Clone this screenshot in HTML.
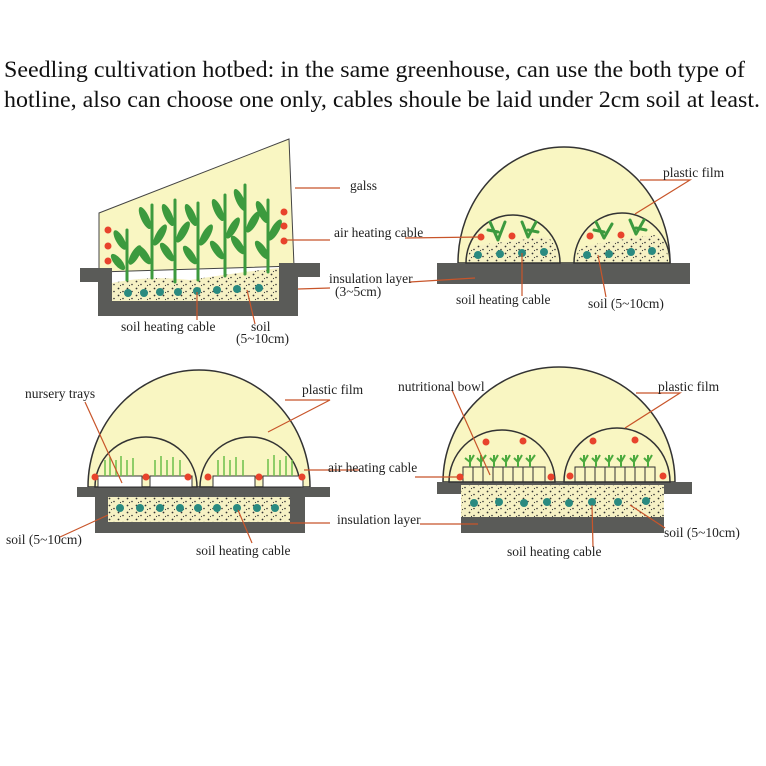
<!DOCTYPE html>
<html><head><meta charset="utf-8"><style>
html,body{margin:0;padding:0;background:#fff;width:766px;height:766px;overflow:hidden}
svg{display:block}
text{font-family:"Liberation Serif",serif;fill:#222}
.t{font-size:21px;fill:#111}
.l{font-size:13.5px}
.ln{stroke:#c8552a;stroke-width:1.2;fill:none}
.dome{fill:#f9f6c2;stroke:#333;stroke-width:1.5}
.gray{fill:#5a5b58}
.soil{fill:url(#dots);}
.r{fill:#e8432c}
.b{fill:#2a8a80}
.plant{fill:none;stroke:#3c9a3e;stroke-width:3;stroke-linecap:round}
</style></head><body>
<svg width="766" height="766" viewBox="0 0 766 766">
<defs>
<pattern id="dots" width="9" height="7" patternUnits="userSpaceOnUse">
<rect width="9" height="7" fill="#f6f1c4"/>
<circle cx="1.5" cy="1.5" r="0.9" fill="#333"/><circle cx="6" cy="4.5" r="0.8" fill="#333"/><circle cx="3.5" cy="5.5" r="0.6" fill="#444"/>
</pattern>
<linearGradient id="band" x1="0" y1="0" x2="0" y2="1">
<stop offset="0" stop-color="#f9f6c2"/><stop offset="0.2" stop-color="#f3dfa8"/><stop offset="0.35" stop-color="#f9f6c2"/><stop offset="1" stop-color="#f9f6c2"/>
</linearGradient>
</defs>
<rect width="766" height="766" fill="#fff"/>
<text class="t" x="4" y="77" textLength="741" lengthAdjust="spacingAndGlyphs" style="font-size:23px">Seedling cultivation hotbed: in the same greenhouse, can use the both type of</text>
<text class="t" x="4" y="107" textLength="756" lengthAdjust="spacingAndGlyphs" style="font-size:23px">hotline, also can choose one only, cables shoule be laid under 2cm soil at least.</text>

<!-- Top-left -->
<polygon points="99,213 289,139 294,266 99,272" fill="#f9f6c2" stroke="#444" stroke-width="1"/>
<path class="gray" d="M80,268 H112 V301 H279 V263 H320 V277 H298 V316 H98 V282 H80 Z"/>
<path class="soil" d="M112,283 Q150,275 190,280 Q240,272 279,268 V301 H112 Z"/>
<g class="plant">
<path d="M127,280 V230"/><path d="M152,278 V205"/><path d="M175,282 V200"/><path d="M198,280 V203"/><path d="M225,276 V195"/><path d="M245,274 V185"/><path d="M268,272 V200"/>
</g>
<g fill="#3c9a3e">
<ellipse cx="120" cy="240" rx="4" ry="11" transform="rotate(-30 120 240)"/><ellipse cx="135" cy="255" rx="4" ry="11" transform="rotate(30 135 255)"/><ellipse cx="118" cy="262" rx="4" ry="10" transform="rotate(-40 118 262)"/>
<ellipse cx="145" cy="218" rx="4" ry="12" transform="rotate(-25 145 218)"/><ellipse cx="160" cy="235" rx="4" ry="12" transform="rotate(30 160 235)"/><ellipse cx="144" cy="255" rx="4" ry="11" transform="rotate(-35 144 255)"/>
<ellipse cx="168" cy="215" rx="4" ry="12" transform="rotate(-25 168 215)"/><ellipse cx="183" cy="232" rx="4" ry="12" transform="rotate(30 183 232)"/><ellipse cx="167" cy="252" rx="4" ry="11" transform="rotate(-35 167 252)"/>
<ellipse cx="191" cy="215" rx="4" ry="12" transform="rotate(-25 191 215)"/><ellipse cx="206" cy="235" rx="4" ry="12" transform="rotate(30 206 235)"/><ellipse cx="190" cy="255" rx="4" ry="11" transform="rotate(-35 190 255)"/>
<ellipse cx="218" cy="210" rx="4" ry="12" transform="rotate(-25 218 210)"/><ellipse cx="233" cy="228" rx="4" ry="12" transform="rotate(30 233 228)"/><ellipse cx="217" cy="250" rx="4" ry="11" transform="rotate(-35 217 250)"/>
<ellipse cx="240" cy="200" rx="4" ry="12" transform="rotate(-25 240 200)"/><ellipse cx="253" cy="222" rx="4" ry="12" transform="rotate(30 253 222)"/><ellipse cx="238" cy="245" rx="4" ry="11" transform="rotate(-35 238 245)"/>
<ellipse cx="262" cy="212" rx="4" ry="12" transform="rotate(-25 262 212)"/><ellipse cx="275" cy="230" rx="4" ry="12" transform="rotate(30 275 230)"/><ellipse cx="262" cy="250" rx="4" ry="11" transform="rotate(-35 262 250)"/>
</g>
<g class="r"><circle cx="108" cy="230" r="3.5"/><circle cx="108" cy="246" r="3.5"/><circle cx="108" cy="261" r="3.5"/><circle cx="284" cy="212" r="3.5"/><circle cx="284" cy="226" r="3.5"/><circle cx="284" cy="241" r="3.5"/></g>
<g class="b"><circle cx="128" cy="293" r="4"/><circle cx="144" cy="293" r="4"/><circle cx="160" cy="292" r="4"/><circle cx="178" cy="292" r="4"/><circle cx="197" cy="291" r="4"/><circle cx="217" cy="290" r="4"/><circle cx="237" cy="289" r="4"/><circle cx="259" cy="288" r="4"/></g>
<path class="ln" d="M295,188 H340"/><path class="ln" d="M286,240 H330"/><path class="ln" d="M298,289 L330,288"/>
<path class="ln" d="M197,292 V320"/><path class="ln" d="M247,290 L255,324"/>
<text class="l" x="350" y="190">galss</text>
<text class="l" x="334" y="237">air heating cable</text>
<text class="l" x="329" y="283">insulation layer</text>
<text class="l" x="335" y="296">(3~5cm)</text>
<text class="l" x="121" y="331">soil heating cable</text>
<text class="l" x="251" y="331">soil</text>
<text class="l" x="236" y="343">(5~10cm)</text>

<!-- Top-right -->
<path class="dome" d="M458,263 A106,116 0 0 1 670,263 Z"/>
<path class="gray" d="M437,263 H690 V284 H437 Z"/>
<path class="dome" d="M466,263 A47,48 0 0 1 560,263 Z"/>
<path class="dome" d="M574,263 A48,50 0 0 1 670,263 Z"/>
<path class="soil" d="M468,262 Q467,248 480,245 Q520,240 545,237 Q558,240 558,262 Z"/>
<path class="soil" d="M576,262 Q575,248 590,245 Q630,238 655,235 Q668,240 668,262 Z"/>
<g class="r"><circle cx="481" cy="237" r="3.5"/><circle cx="512" cy="236" r="3.5"/><circle cx="590" cy="236" r="3.5"/><circle cx="621" cy="235" r="3.5"/></g>
<g class="b"><circle cx="478" cy="255" r="4"/><circle cx="500" cy="254" r="4"/><circle cx="522" cy="253" r="4"/><circle cx="544" cy="252" r="4"/><circle cx="587" cy="255" r="4"/><circle cx="609" cy="254" r="4"/><circle cx="631" cy="252" r="4"/><circle cx="652" cy="251" r="4"/></g>
<g class="plant"><path d="M498,240 L490,222 M498,240 L505,222 M498,232 L488,230"/><path d="M528,237 L522,222 M528,237 L536,222 M528,230 L538,232"/><path d="M604,238 L596,222 M604,238 L612,224 M604,232 L594,230"/><path d="M636,234 L630,220 M636,234 L644,220 M636,228 L646,230"/></g>
<path class="ln" d="M640,180 H690 L635,214"/><path class="ln" d="M405,238 L480,237"/><path class="ln" d="M410,282 L475,278"/>
<path class="ln" d="M522,253 V296"/><path class="ln" d="M598,255 L606,297"/>
<text class="l" x="663" y="177">plastic film</text>
<text class="l" x="456" y="304">soil heating cable</text>
<text class="l" x="588" y="308">soil (5~10cm)</text>

<!-- Bottom-left -->
<path class="dome" d="M88,487 A111,117 0 0 1 310,487 Z" fill="url(#band)"/>
<path class="gray" d="M77,487 H330 V497 H305 V533 H95 V497 H77 Z"/>
<rect class="soil" x="108" y="497" width="182" height="25"/>
<path class="dome" d="M95,487 A51,50 0 0 1 197,487 Z"/>
<path class="dome" d="M200,487 A50,50 0 0 1 300,487 Z"/>
<g fill="#fff" stroke="#333" stroke-width="1"><rect x="98" y="476" width="44" height="11"/><rect x="150" y="476" width="42" height="11"/><rect x="213" y="476" width="42" height="11"/><rect x="263" y="476" width="40" height="11"/></g>
<g stroke="#6cbf4a" stroke-width="1.5" fill="none"><path d="M105,476 V460 M110,476 V457 M116,476 V460 M121,476 V456 M127,476 V460 M133,476 V458 M155,476 V460 M161,476 V456 M167,476 V460 M173,476 V457 M180,476 V460 M218,476 V460 M224,476 V456 M230,476 V460 M236,476 V457 M243,476 V460 M268,476 V459 M274,476 V455 M280,476 V460 M286,476 V456 M292,476 V460"/></g>
<g class="r"><circle cx="95" cy="477" r="3.5"/><circle cx="146" cy="477" r="3.5"/><circle cx="188" cy="477" r="3.5"/><circle cx="208" cy="477" r="3.5"/><circle cx="259" cy="477" r="3.5"/><circle cx="302" cy="477" r="3.5"/></g>
<g class="b"><circle cx="120" cy="508" r="4"/><circle cx="140" cy="508" r="4"/><circle cx="160" cy="508" r="4"/><circle cx="180" cy="508" r="4"/><circle cx="198" cy="508" r="4"/><circle cx="217" cy="508" r="4"/><circle cx="237" cy="508" r="4"/><circle cx="257" cy="508" r="4"/><circle cx="275" cy="508" r="4"/></g>
<path class="ln" d="M85,402 L122,483"/><path class="ln" d="M285,400 H330 L268,432"/><path class="ln" d="M304,470 H360"/><path class="ln" d="M290,523 H330"/>
<path class="ln" d="M60,537 L108,515"/><path class="ln" d="M238,510 L252,543"/>
<text class="l" x="25" y="398">nursery trays</text>
<text class="l" x="302" y="394">plastic film</text>
<text class="l" x="328" y="472">air heating cable</text>
<text class="l" x="337" y="524">insulation layer</text>
<text class="l" x="6" y="544">soil (5~10cm)</text>
<text class="l" x="196" y="555">soil heating cable</text>

<!-- Bottom-right -->
<path class="dome" d="M443,482 A116,115 0 0 1 675,482 Z" fill="url(#band)"/>
<path class="gray" d="M437,482 H692 V494 H664 V533 H461 V494 H437 Z"/>
<rect class="soil" x="461" y="485" width="203" height="32"/>
<path class="dome" d="M449,482 A53,52 0 0 1 555,482 Z"/>
<path class="dome" d="M564,482 A53,54 0 0 1 670,482 Z"/>
<g fill="none" stroke="#333" stroke-width="1"><rect x="463" y="467" width="82" height="15"/><rect x="575" y="467" width="80" height="15"/>
<path d="M473,467 V482 M483,467 V482 M493,467 V482 M503,467 V482 M513,467 V482 M523,467 V482 M533,467 V482 M585,467 V482 M595,467 V482 M605,467 V482 M615,467 V482 M625,467 V482 M635,467 V482 M645,467 V482"/></g>
<g stroke="#4caa3e" stroke-width="2" fill="none"><path d="M470,467 V455 M465,458 L470,462 L474,455 M481,467 V455 M477,458 L481,462 L486,455 M494,467 V455 M490,458 L494,462 L498,455 M506,467 V455 M502,458 L506,462 L510,455 M518,467 V455 M514,458 L518,462 L522,455 M530,467 V455 M526,458 L530,462 L535,455 M584,467 V455 M580,458 L584,462 L588,455 M596,467 V455 M592,458 L596,462 L600,455 M609,467 V455 M605,458 L609,462 L613,455 M621,467 V455 M617,458 L621,462 L625,455 M634,467 V455 M630,458 L634,462 L638,455 M648,467 V455 M644,458 L648,462 L652,455"/></g>
<g class="r"><circle cx="486" cy="442" r="3.5"/><circle cx="523" cy="441" r="3.5"/><circle cx="593" cy="441" r="3.5"/><circle cx="635" cy="440" r="3.5"/><circle cx="460" cy="477" r="3.5"/><circle cx="551" cy="477" r="3.5"/><circle cx="570" cy="476" r="3.5"/><circle cx="663" cy="476" r="3.5"/></g>
<g class="b"><circle cx="474" cy="503" r="4"/><circle cx="499" cy="502" r="4"/><circle cx="524" cy="503" r="4"/><circle cx="547" cy="502" r="4"/><circle cx="569" cy="503" r="4"/><circle cx="592" cy="502" r="4"/><circle cx="618" cy="502" r="4"/><circle cx="646" cy="501" r="4"/></g>
<path class="ln" d="M452,390 L490,475"/><path class="ln" d="M636,393 H680 L625,428"/><path class="ln" d="M415,477 H458"/><path class="ln" d="M420,524 H478"/>
<path class="ln" d="M592,505 L593,547"/><path class="ln" d="M630,505 L665,528"/>
<text class="l" x="398" y="391">nutritional bowl</text>
<text class="l" x="658" y="391">plastic film</text>
<text class="l" x="664" y="537">soil (5~10cm)</text>
<text class="l" x="507" y="556">soil heating cable</text>
</svg>
</body></html>
